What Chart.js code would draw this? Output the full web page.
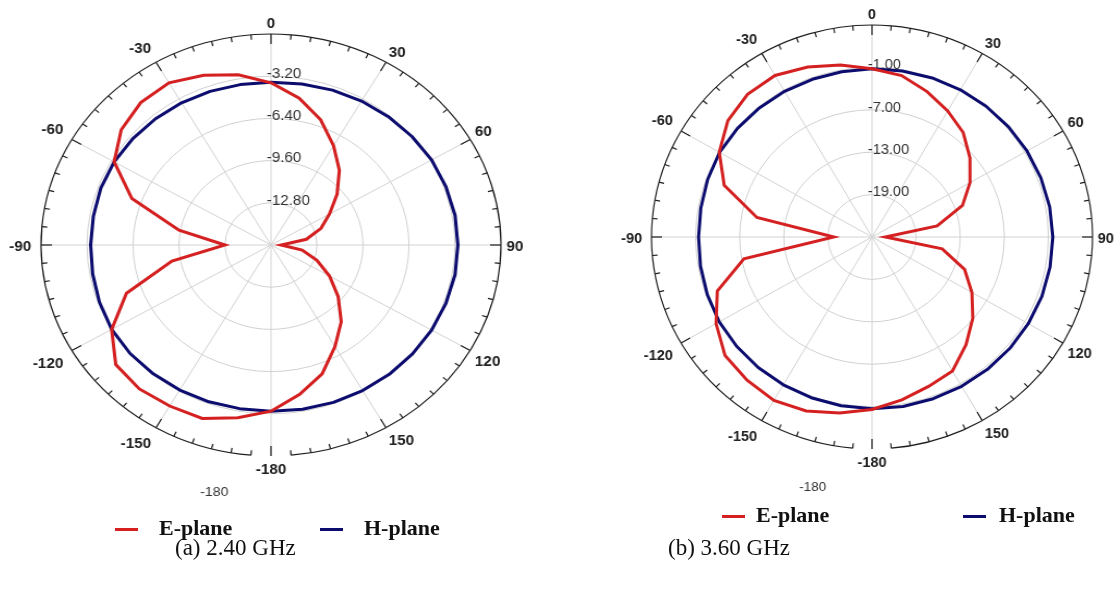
<!DOCTYPE html>
<html>
<head>
<meta charset="utf-8">
<script src="https://cdn.jsdelivr.net/npm/chart.js@4.4.1/dist/chart.umd.min.js"></script>
<style>
  html, body { margin: 0; padding: 0; background: #fff; }
  body { position: relative; width: 1116px; height: 589px; overflow: hidden;
         font-family: "Liberation Serif", "Times New Roman", serif; color: #111; }
  canvas.polar { position: absolute; }
  .legend { position: absolute; font-weight: bold; font-size: 22px; line-height: 22px; white-space: nowrap; }
  .swatch { position: absolute; height: 3px; width: 23px; }
  .caption { position: absolute; font-size: 23px; line-height: 23px; white-space: nowrap; }
</style>
</head>
<body>
<canvas id="plotA" class="polar" width="520" height="520"></canvas>
<canvas id="plotB" class="polar" width="520" height="520"></canvas>

<div class="swatch" style="left:115px;top:528px;background:#d42020"></div>
<div class="legend" style="left:159px;top:517px">E-plane</div>
<div class="swatch" style="left:320px;top:528px;background:#0c0c6e"></div>
<div class="legend" style="left:364px;top:517px">H-plane</div>

<div class="swatch" style="left:722px;top:515px;background:#d42020"></div>
<div class="legend" style="left:756px;top:504px">E-plane</div>
<div class="swatch" style="left:963px;top:515px;background:#0c0c6e"></div>
<div class="legend" style="left:999px;top:504px">H-plane</div>

<div class="caption" style="left:175px;top:536px">(a) 2.40 GHz</div>
<div class="caption" style="left:668px;top:536px">(b) 3.60 GHz</div>

<script>
// Azimuth of each sample, clockwise from the top (degrees)
const angles = [0, 10, 20, 30, 40, 50, 60, 70, 80, 90, 100, 110, 120, 130, 140, 150, 160, 170,
                180, -170, -160, -150, -140, -130, -120, -110, -100, -90, -80, -70, -60, -50, -40, -30, -20, -10];

// Angle labels printed around the rim
const angleTickLabels = [0, 30, 60, 90, 120, 150, -180, -150, -120, -90, -60, -30];

// 2.40 GHz pattern (dB)
const ePlane24 = [-3.7, -4.7, -5.9, -7.3, -8.6, -10.0, -11.3, -12.3, -13.5, -15.3,
                  -13.8, -12.6, -11.3, -9.9, -8.4, -7.1, -5.6, -4.5,
                  -3.4, -2.7, -2.0, -1.9, -1.75, -1.9, -3.2, -5.3, -9.0, -12.8,
                  -9.5, -5.7, -3.4, -2.4, -1.9, -1.8, -2.3, -2.9];
const hPlane24 = [-3.65, -3.6, -3.5, -3.4, -3.3, -3.2, -3.1, -3.05, -3.0, -3.0,
                  -3.0, -3.05, -3.1, -3.15, -3.2, -3.25, -3.3, -3.35,
                  -3.4, -3.4, -3.35, -3.3, -3.25, -3.2, -3.2, -3.3, -3.4, -3.45,
                  -3.45, -3.4, -3.4, -3.45, -3.5, -3.55, -3.6, -3.65];
const rings24 = [-16, -12.8, -9.6, -6.4, -3.2];

// 3.60 GHz pattern (dB)
const ePlane36 = [-1.2, -1.8, -3.1, -4.4, -5.7, -7.6, -9.6, -11.9, -16.0, -23.2,
                  -15.3, -11.6, -9.3, -7.1, -5.1, -3.1, -2.5, -1.6,
                  -0.6, 0.3, 1.2, 1.7, 1.45, 1.1, -0.5, -2.6, -7.3, -19.8,
                  -9.1, -3.6, -1.0, 0.6, 1.35, 1.4, 0.6, -0.3];
const hPlane36 = [-1.2, -1.15, -1.05, -0.95, -0.85, -0.75, -0.65, -0.55, -0.45, -0.4,
                  -0.4, -0.4, -0.45, -0.5, -0.55, -0.6, -0.65, -0.65,
                  -0.7, -0.75, -0.8, -0.85, -0.9, -0.95, -1.0, -1.15, -1.3, -1.4,
                  -1.35, -1.2, -1.05, -1.1, -1.15, -1.2, -1.25, -1.25];
const rings36 = [-25, -19, -13, -7, -1];

const RED = '#d42020';
const NAVY = '#0c0c6e';

// Spokes, rim with degree ticks, rim labels and ring labels
const polarFrame = {
  id: 'polarFrame',
  beforeDatasetsDraw(chart, args, o) {
    const s = chart.scales.r;
    const ctx = chart.ctx;
    const cx = s.xCenter, cy = s.yCenter;
    const R = s.getDistanceFromCenterForValue(o.rim);
    const rad = d => d * Math.PI / 180;
    ctx.save();

    // spokes every 30 degrees
    ctx.strokeStyle = '#d2d2d2';
    ctx.lineWidth = 1;
    chart.data.labels.forEach((a, i) => {
      if (a % 30 !== 0) return;
      const p = s.getPointPosition(i, R);
      ctx.beginPath();
      ctx.moveTo(cx, cy);
      ctx.lineTo(p.x, p.y);
      ctx.stroke();
    });

    // rim, open around the bottom
    ctx.strokeStyle = '#1e1e1e';
    ctx.lineWidth = 1.2;
    ctx.beginPath();
    ctx.arc(cx, cy, R, Math.PI / 2 + rad(5), Math.PI / 2 + 2 * Math.PI - rad(5));
    ctx.stroke();

    // degree ticks every 5, longer every 30
    for (let d = -175; d <= 180; d += 5) {
      const a = rad(d) - Math.PI / 2;
      const len = d % 30 === 0 ? 10 : 5;
      ctx.beginPath();
      ctx.moveTo(cx + Math.cos(a) * R, cy + Math.sin(a) * R);
      ctx.lineTo(cx + Math.cos(a) * (R - len), cy + Math.sin(a) * (R - len));
      ctx.stroke();
    }

    // rim labels
    ctx.fillStyle = '#222';
    ctx.font = 'bold 14px "Liberation Sans", Arial, sans-serif';
    angleTickLabels.forEach(d => {
      const idx = ((Math.round(d / 10) % 36) + 36) % 36;
      const sx = Math.sin(rad(d)), cy2 = Math.cos(rad(d));
      const pad = sx < -0.05 ? o.labelPadLeft : o.labelPad;
      const p = s.getPointPosition(idx, R + pad);
      ctx.textAlign = Math.abs(sx) < 0.05 ? 'center' : (sx > 0 ? 'left' : 'right');
      ctx.textBaseline = Math.abs(cy2) < 0.05 ? 'middle' : (cy2 > 0 ? 'bottom' : 'top');
      ctx.fillText(String(d), p.x, p.y + 2);
    });

    // stray rim label below the plot
    ctx.font = '13px "Liberation Sans", Arial, sans-serif';
    ctx.fillStyle = '#333';
    ctx.textAlign = 'center';
    ctx.textBaseline = 'middle';
    ctx.fillText('-180', cx + o.extra.dx, cy + o.extra.dy);

    // ring labels
    ctx.font = '14px "Liberation Sans", Arial, sans-serif';
    ctx.textAlign = 'left';
    ctx.textBaseline = 'bottom';
    s.ticks.forEach((t, i) => {
      if (i === 0) return;
      const r = s.getDistanceFromCenterForValue(t.value);
      ctx.fillText(t.value.toFixed(2), cx - 4, cy - r + 5);
    });
    ctx.restore();
  }
};

function makePolar(id, cfg) {
  const canvas = document.getElementById(id);
  const half = Math.min(canvas.width, canvas.height) / 2;
  // canvas placement: plot centre on the page, stretched horizontally
  canvas.style.left = (cfg.cx - canvas.width / 2) + 'px';
  canvas.style.top = (cfg.cy - canvas.height / 2) + 'px';
  canvas.style.width = canvas.width + 'px';
  canvas.style.height = canvas.height + 'px';
  canvas.style.transformOrigin = (canvas.width / 2) + 'px ' + (canvas.height / 2) + 'px';
  canvas.style.transform = 'scaleX(' + cfg.stretch + ')';

  const rim = cfg.rings[0] + cfg.span;
  return new Chart(canvas.getContext('2d'), {
    type: 'radar',
    data: {
      labels: angles,
      datasets: [
        { label: 'E-plane', data: cfg.e, borderColor: RED, borderWidth: 3, pointRadius: 0,
          fill: false, borderJoinStyle: 'miter' },
        { label: 'H-plane', data: cfg.h, borderColor: NAVY, borderWidth: 3, pointRadius: 0,
          fill: false, borderJoinStyle: 'round' }
      ]
    },
    options: {
      responsive: false,
      animation: false,
      devicePixelRatio: 1,
      layout: { padding: 0 },
      plugins: {
        legend: { display: false },
        tooltip: { enabled: false },
        polarFrame: { rim: rim, labelPad: 5, labelPadLeft: 9, extra: cfg.extra }
      },
      scales: {
        r: {
          min: cfg.rings[0],
          max: cfg.rings[0] + cfg.span * half / cfg.radius,
          startAngle: 0,
          angleLines: { display: false },
          grid: { circular: true, color: '#d0d0d0', lineWidth: 1 },
          pointLabels: { display: false },
          ticks: { display: false },
          afterBuildTicks: sc => { sc.ticks = cfg.rings.map(v => ({ value: v })); }
        }
      }
    },
    plugins: [polarFrame]
  });
}

makePolar('plotA', { e: ePlane24, h: hPlane24, rings: rings24, span: 16,
                     cx: 271, cy: 245, radius: 211, stretch: 1.09, extra: { dx: -52, dy: 247 } });
makePolar('plotB', { e: ePlane36, h: hPlane36, rings: rings36, span: 30,
                     cx: 872, cy: 237, radius: 212, stretch: 1.04, extra: { dx: -57, dy: 250 } });
</script>
</body>
</html>
